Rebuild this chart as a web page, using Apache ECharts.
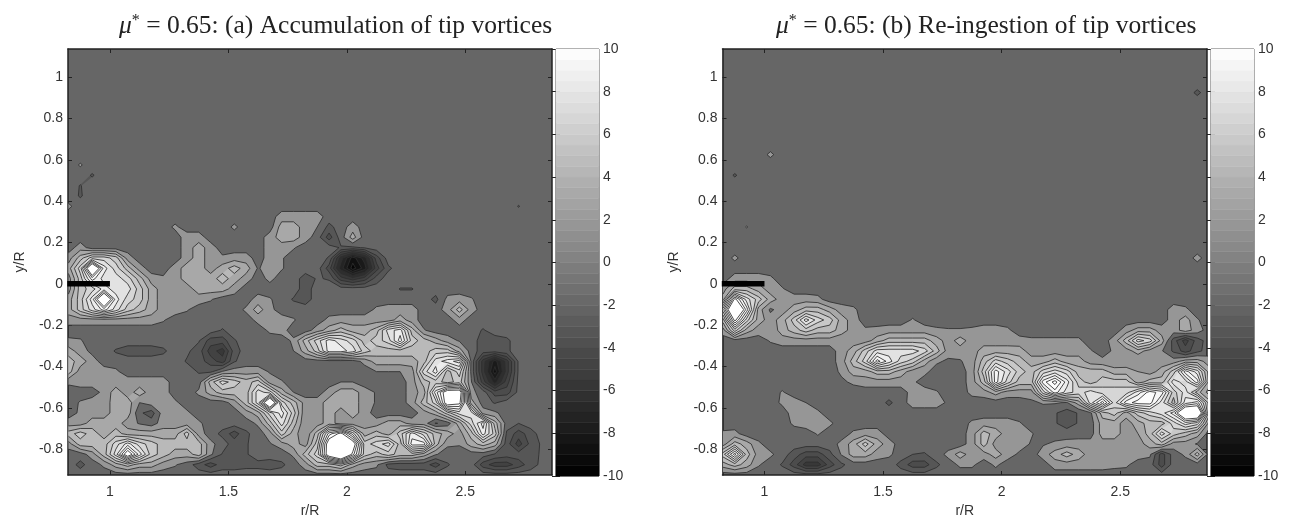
<!DOCTYPE html>
<html><head><meta charset="utf-8">
<script src="https://cdn.jsdelivr.net/npm/echarts@6/dist/echarts.min.js"></script>
<style>html,body{margin:0;padding:0;background:#fff}#c{width:1295px;height:515px}</style>
</head><body><div id="c"></div>
<script>
// value samples: [y/R, first column index (r = 0.825 + 0.05*i), values...]
const valuesA = [
[.575,1,.6],[.525,2,-.6],[.475,1,-.55],[.425,1,-.6],[.375,0,.7],[.375,38,-.55],
[.325,18,1,1,1,1],
[.275,9,.7],[.275,14,.7],[.275,18,2,2,1,.5],[.275,22,-.8],[.275,24,1],
[.225,10,1,1],[.225,17,1,2,2,1],[.225,22,-2],[.225,24,2],
[.175,1,1],[.175,10,1,2,1],[.175,17,1,1,.6],[.175,23,-.6,-.7,-.4],
[.125,0,1,3,5,5,4,1],[.125,10,1,2,1,.7,1,1,0,1,.6],[.125,22,-.6,-5,-8,-6,-2],
[.075,0,2,5,13,7,5,3,1],[.075,9,1,2,2,1,2,3,2,.4,1,.6],[.075,22,-2,-6,-9,-7,-3,-.7],
[.025,0,1,4,8,6,6,5,3,1,.7,1,2,2,2,3,2,1,0,.8],[.025,20,-1,-.4,-.6,-3,-4,-3,-1],
[-.025,0,1,4,5,7,6,6,4,2,1,1,1,2,2,2,1],[-.025,20,-1],[-.025,28,-.55,-.55],
[-.075,0,2,4,7,13,7,5,4,2,1,1,1,1,.6],[-.075,16,1,.6,0,-.6,-1],[-.075,31,-.8,.8,1,.6],
[-.125,0,2,4,6,8,6,4,3,2,1,1,.6],[-.125,15,.7,2,.8],[-.125,26,.7,1,1,1],[-.125,32,1,3,1],
[-.175,0,1,1,1,1,1,1,1,1,.6],[-.175,16,.8,1,1,.6],[-.175,22,.8,1,1,1,1,1,2,1],[-.175,33,1],
[-.225,13,-.6],[-.225,17,.7,.9],[-.225,21,1,2,3,2,2,3,6,7,3,.6],[-.225,35,-.6],
[-.275,0,.7,.6],[-.275,11,-.4,-2,-2,-.6],[-.275,19,.7,3,5,7,6,5,3,4,5,8,4,3,2,1,.4],[-.275,35,-1,-1,-.7],
[-.325,0,2,1,.2],[-.325,4,-.6,-1,-1,-1,-.7],[-.325,10,-.3,-1,-3,-4,-1],[-.325,19,.5,2,4,7,7,6,4,3,3,3,3,3,4,4,2],[-.325,35,-1,-1,-.7],
[-.375,0,3,2,1],[-.375,10,-.6,-1,-2,-3,-.6],[-.375,25,.8,2,2,2,2,3,6,7,8,.3],[-.375,35,-4,-7,-4,-.3],
[-.425,0,3,1,1,1,.7],[-.425,11,-.6,-.7,.6,1,1,1,.4],[-.425,26,.5,.5,.5,1,5,7,3,5,.3],[-.425,35,-4,-8,-4,-.3],
[-.475,0,.7,1,1,1,1,1,1,1,1],[-.475,12,3,5,4,3,4,1,.6],[-.475,23,.5,.5],[-.475,29,1,3,4,3,4,.6,-3,-6,-3,-.2],
[-.525,3,.8,2,1,2,1,1],[-.525,11,.7,2,3,3,3,6,5,2,.5],[-.525,22,1,2,2,1,.4],[-.525,29,1,2,7,11,11,.8,0,-2,-2,-.2],
[-.575,1,.6,1,1,2,2,.5,1,1,.7],[-.575,14,1,3,6,13,5,3,1,1,2,2,2,1,.4],[-.575,29,1,3,5,11,10,2,0,-.6],
[-.625,1,.7,1,1,2,2,-.3,-1,1,1,.7],[-.625,15,1,2,5,7,4,.6,1,2,1,2,1],[-.625,30,1,2,4,6,6,1,.7],
[-.675,0,1,1,2,2,2,1,.4,0,1,1,1,.7],[-.675,16,.7,3,6,3,.6,1,2,1,1,1,1,2,2,1,1,-.6,0,2,5,8,3],[-.675,38,-.5],
[-.725,0,3,4,3,2,3,2,2,2,2,2,4,1],[-.725,13,-.8,-2,-.7],[-.725,17,1,4,2,.6,3,8,10,6,2,3,2,4,7,5,3,2,1,3,7,4,-.7,-2,-1],
[-.775,0,1,3,3,3,5,7,5,4,3,3,3,3,.8],[-.775,14,-1,-.6],[-.775,17,.4,1,2,1,4,11,14,11,4,5,6,3,8,8,3,.7,.6,2,3,2,-1,-3,-1.2,-.3],
[-.825,2,1,3,6,11,7,4,3,2,2,3,.7,-.6,-.6,-.6],[-.825,19,.7,3,5,11,14,9,4,3,4,3,3,2,.6],[-.825,36,-.6,-1,-1,-1,-.3],
[-.875,1,-.8,0,.7,2,3,2,2,1,.6,0,-1,-2,-1,-1,-.8,-.8,-1,-.7],[-.875,20,1,3,3,4,2,1,.7,-.8,-1,-1,-1,-2,-.6],[-.875,35,-2,-3,-3,-2,-1,-.2]
];
const valuesB = [
[.925,40,-.7],[.625,4,.7],[.525,1,-.6],[.275,2,.55],
[.125,1,.7],[.125,40,.8],
[.025,1,1,1,1,.7],
[-.025,0,1,3,3,2,1,.6],
[-.075,0,2,10,6,4,2,1,1,1,.8],
[-.125,0,6,14,8,2,.3,1,2,3,3,2,1,.7],[-.125,38,1,.7],
[-.175,0,3,10,5,2,1,2,4,7,5,4,2,1,0,0,0,0,.6],[-.175,38,1,2,.6],
[-.225,0,1,5,2,1,.7,2,3,4,3,3,2,1,.7,.8,1,1,1,1,.7,.6,.6,.7,1,1,.7],[-.225,34,1,2,2,1,1,2,1],
[-.275,4,.6,1,1,1,1,1,.7,1,1,2,3,3,3,3,2,1,2,1,1,1,1,.9,.7,.7,.7,.7,.7],[-.275,33,1,3,6,5,2,-1,-3,-1],
[-.325,10,1,2,4,6,6,6,6,5,3,1,1,1,2,2,2,2,1,1,1,1,1,.6],[-.325,33,.7,1,2,1,.6,-.7,-2,-.8],
[-.375,10,1,3,5,9,7,5,4,2,.7,.3,.4,1,3,5,4,3,2,2,3,2,2,1,.8,.7,.8,.5,.7,.9,1,2,2,1],
[-.425,10,.7,2,2,3,3,2,1,.8,0,0,0,1,4,8,6,4,3,5,6,5,3,3,3,2,2,1.5,1,2,4,8,6,2],
[-.475,10,.3,.7,1,1,1,1,.7],[-.475,21,1,3,8,5,3,3,8,10,7,4,3,4,4,4,2,3,3,6,5,8,2],
[-.525,5,.6],[-.525,16,.9,1,.6],[-.525,21,.8,1,2,1,1,1,5,8,6,5,6,5,5,5,7,9,8,4,6,3,1],
[-.575,5,.7,1,.5],[-.575,14,-.7,0,1,1,1,.3],[-.575,26,.3,.6,.6,.4,2,6,9,5,8,9,9,6,3,7,8,3],
[-.625,6,1,1,.7],[-.625,28,-.4,-1,-.4,.3,3,4,2,4,5,6,8,13,13,3],
[-.675,6,.7,1,1,.7],[-.675,21,.7,1,1,1,.6],[-.675,28,-.4,-1,-.4,0,2,2,1,2,3,3,5,7,6,1],
[-.725,0,.7,.8],[-.725,8,.6],[-.725,11,.7,1,1],[-.725,21,1,3,2,1,1,.6],[-.725,32,2,2,1,1.5,3,6,4,3,2],
[-.775,0,1,3,2,.7],[-.775,10,.8,2,4,2,1],[-.775,21,1,3,1,1,1,.4,.4,.7,.9,1,1,1,1,1,1,2,3,1,1,.4],
[-.825,0,4,8,3,1,.7],[-.825,6,-1,-2,-2,-.8,.6,2,2,1,.7],[-.825,16,-.5,-.6],[-.825,19,.8,2,1,1,2,1,.3],[-.825,27,1,2,3,2,1,1,1,1,1,.7,-2,0,.7,3],
[-.875,0,2,3,2,.6],[-.875,5,-.6,-2,-4,-4,-2,-.7],[-.875,15,-.8,-2,-2,-.7],[-.875,20,.7,.7,0,.7],[-.875,28,1,1,1,1,1,.8,.7],[-.875,37,-2]
];
const xTicks = [1, 1.5, 2, 2.5];
const yTicks = [-0.8, -0.6, -0.4, -0.2, 0, 0.2, 0.4, 0.6, 0.8, 1];
const barTicks = [-10, -8, -6, -4, -2, 0, 2, 4, 6, 8, 10];
const barBands = [-10,-9.5,-9,-8.5,-8,-7.5,-7,-6.5,-6,-5.5,-5,-4.5,-4,-3.5,-3,-2.5,-2,-1.5,-1,-.5,0,.5,1,1.5,2,2.5,3,3.5,4,4.5,5,5.5,6,6.5,7,7.5,8,8.5,9,9.5];
const bladeR = [0.82, 1];
const bladeY = [0, 0];
const titleA = '(a) Accumulation of tip vortices';
const titleB = '(b) Re-ingestion of tip vortices';
const posLevels = [.5,1.5,2.5,3.5,4.5,5.5,6.5,7.5,8.5,9.5];
const negLevels = [-.5,-1.5,-2.5,-3.5,-4.5,-5.5,-6.5,-7.5,-8.5];

const R0=.825, Y0=-.925, STEP=.05, NX=42, NY=42;
function toGrid(samples){
  const g=[];for(let j=0;j<NY;j++)g.push(new Array(NX).fill(0));
  samples.forEach(s=>{const j=Math.round((s[0]-Y0)/STEP);for(let k=2;k<s.length;k++)g[j][s[1]+k-2]=s[k];});
  return g;
}
function levelGeometry(g,L){
  const inside=L>0?(v=>v>=L):(v=>v<=L);
  const polys=[],segs=[];
  for(let j=0;j<NY-1;j++)for(let i=0;i<NX-1;i++){
    const c=[[i,j+1],[i+1,j+1],[i+1,j],[i,j]].map(p=>({r:R0+p[0]*STEP,y:Y0+p[1]*STEP,v:g[p[1]][p[0]]}));
    const poly=[],cross=[];
    for(let k=0;k<4;k++){
      const a=c[k],b=c[(k+1)%4],ia=inside(a.v),ib=inside(b.v);
      if(ia)poly.push([a.r,a.y]);
      if(ia!==ib){const t=(L-a.v)/(b.v-a.v),p=[a.r+t*(b.r-a.r),a.y+t*(b.y-a.y)];poly.push(p);cross.push(p);}
    }
    if(poly.length>2)polys.push(poly);
    if(cross.length>=2)segs.push([cross[0],cross[1]]);
    if(cross.length===4)segs.push([cross[2],cross[3]]);
  }
  return {polys,segs};
}
function fillGray(L){
  const k=Math.abs(L)+.5;
  const g=L>0?Math.min(255,Math.round(150+105*(1-Math.pow(1-(k-1)/9,1.6)))):Math.max(0,Math.round(86-(k-1)*10));
  return 'rgb('+g+','+g+','+g+')';
}
function contourSeries(values,xi,yi){
  const g=toGrid(values);
  const levels=posLevels.concat(negLevels).map(L=>({L,geo:levelGeometry(g,L)}));
  const common={type:'custom',coordinateSystem:'cartesian2d',xAxisIndex:xi,yAxisIndex:yi,clip:true,silent:true,animation:false,
    data:levels.map(l=>[1,l.L]),encode:{x:0,y:1}};
  const P=(api,p)=>{const c=api.coord(p);return c[0].toFixed(2)+' '+c[1].toFixed(2);};
  return [
    Object.assign({},common,{z:2,renderItem(params,api){
      const l=levels[params.dataIndex];
      const d=l.geo.polys.map(poly=>'M'+poly.map(p=>P(api,p)).join(' L')+' Z').join(' ');
      return d?{type:'path',shape:{pathData:d},style:{fill:fillGray(l.L),stroke:null}}:null;
    }}),
    Object.assign({},common,{z:3,renderItem(params,api){
      const l=levels[params.dataIndex];
      const d=l.geo.segs.map(s=>'M'+P(api,s[0])+' L'+P(api,s[1])).join(' ');
      return d?{type:'path',shape:{pathData:d},style:{fill:'none',stroke:'#2e2e2e',lineWidth:1,opacity:.85}}:null;
    }}),
    {type:'line',xAxisIndex:xi,yAxisIndex:yi,z:4,silent:true,animation:false,symbol:'none',
     data:bladeR.map((r,i)=>[r,bladeY[i]]),lineStyle:{color:'#000',width:5.5,cap:'butt'}}
  ];
}
function barSeries(xi,yi){
  return {type:'custom',coordinateSystem:'cartesian2d',xAxisIndex:xi,yAxisIndex:yi,silent:true,animation:false,z:2,
    data:barBands.map(v=>[0,v]),encode:{x:0,y:1},
    renderItem(params,api){
      const v=api.value(1),a=api.coord([0,v]),b=api.coord([1,v+.5]);
      const g=Math.round((v+.25+10)/20*255),c='rgb('+g+','+g+','+g+')';
      return {type:'rect',shape:{x:a[0],y:b[1],width:b[0]-a[0],height:a[1]-b[1]},style:{fill:c,stroke:c,lineWidth:.5}};
    }};
}
const TXT='#333', LINE='#222', FONT='"Liberation Sans"';
function mainX(grid,pos,nameShown){return {type:'value',gridIndex:grid,position:pos,min:.823,max:2.866,
  name:nameShown?'r/R':'',nameLocation:'middle',nameGap:24,nameTextStyle:{color:TXT,fontFamily:FONT,fontSize:14},
  axisLine:{show:true,onZero:false,lineStyle:{color:LINE,width:1.5}},
  axisTick:{show:true,inside:true,length:4,customValues:xTicks,lineStyle:{color:LINE}},
  axisLabel:{show:nameShown,customValues:xTicks,color:TXT,fontFamily:FONT,fontSize:14,margin:10},splitLine:{show:false}};}
function mainY(grid,pos,nameShown){return {type:'value',gridIndex:grid,position:pos,min:-.925,max:1.136,
  name:nameShown?'y/R':'',nameLocation:'middle',nameGap:41,nameRotate:90,nameTextStyle:{color:TXT,fontFamily:FONT,fontSize:14},
  axisLine:{show:true,onZero:false,lineStyle:{color:LINE,width:1.5}},
  axisTick:{show:true,inside:true,length:4,customValues:yTicks,lineStyle:{color:LINE}},
  axisLabel:{show:nameShown,customValues:yTicks,color:TXT,fontFamily:FONT,fontSize:14,margin:5},splitLine:{show:false}};}
function barX(grid){return {type:'value',gridIndex:grid,min:0,max:1,show:false};}
function barY(grid,pos,lab){return {type:'value',gridIndex:grid,position:pos,min:-10,max:10,
  axisLine:{show:false},axisTick:{show:true,inside:true,length:4,customValues:barTicks,lineStyle:{color:LINE}},
  axisLabel:{show:lab,customValues:barTicks,color:TXT,fontFamily:FONT,fontSize:14,margin:4},splitLine:{show:false}};}
function title(text,left){return {text:'{i|\u03bc}{s|*} = 0.65: '+text,left,top:8,
  textStyle:{fontFamily:'"Liberation Serif"',fontWeight:'normal',fontSize:25.5,color:'#222',
  rich:{i:{fontFamily:'"Liberation Serif"',fontStyle:'italic',fontSize:25.5,color:'#222'},s:{fontFamily:'"Liberation Serif"',fontSize:16,color:'#222',verticalAlign:'top',padding:[0,0,8,0]}}}};}
const chart=echarts.init(document.getElementById('c'),null,{renderer:'canvas'});
const G={outerBoundsMode:'none',containLabel:false,show:true};
chart.setOption({
  animation:false,backgroundColor:'#fff',
  title:[title(titleA,114),title(titleB,771)],
  grid:[
    Object.assign({left:68,top:49,width:484,height:426,backgroundColor:'#666',borderWidth:0},G),
    Object.assign({left:556,top:49,width:43,height:427,borderColor:'#333',borderWidth:1,backgroundColor:'#fff'},G),
    Object.assign({left:722.5,top:49,width:484.5,height:426,backgroundColor:'#666',borderWidth:0},G),
    Object.assign({left:1211,top:49,width:43,height:427,borderColor:'#333',borderWidth:1,backgroundColor:'#fff'},G)
  ],
  xAxis:[mainX(0,'bottom',true),mainX(0,'top',false),barX(1),mainX(2,'bottom',true),mainX(2,'top',false),barX(3)],
  yAxis:[mainY(0,'left',true),mainY(0,'right',false),barY(1,'right',true),barY(1,'left',false),
         mainY(2,'left',true),mainY(2,'right',false),barY(3,'right',true),barY(3,'left',false)],
  series:[...contourSeries(valuesA,0,0),barSeries(2,2),...contourSeries(valuesB,3,4),barSeries(5,6)]
});
</script></body></html>
